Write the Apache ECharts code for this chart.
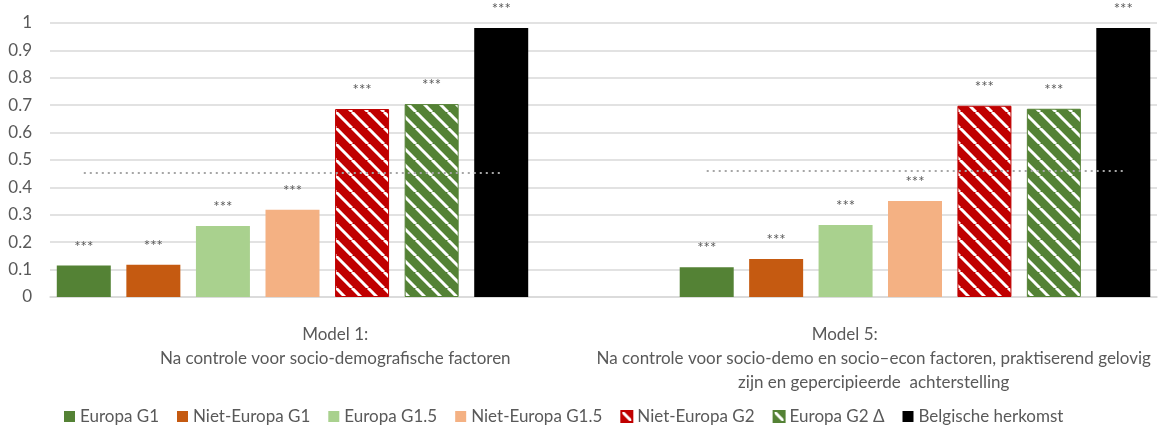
<!DOCTYPE html>
<html>
<head>
<meta charset="utf-8">
<script src="https://cdn.jsdelivr.net/npm/echarts@6/dist/echarts.min.js"></script>
<style>
  html, body { margin: 0; padding: 0; background: #ffffff; }
  #chart { width: 1170px; height: 430px; }
</style>
</head>
<body>
<div id="chart"></div>
<script>
// Model labels on the category axis
const modelLabels = [
  'Model 1:\nNa controle voor socio-demografische factoren',
  '{head|Model 5:}\nNa controle voor socio-demo en socio\u2013econ factoren, praktiserend gelovig\nzijn en gepercipieerde  achterstelling'
];

// Origin groups (one bar each per model)
const seriesNames = [
  'Europa G1',
  'Niet-Europa G1',
  'Europa G1.5',
  'Niet-Europa G1.5',
  'Niet-Europa G2',
  'Europa G2 \u0394',
  'Belgische herkomst'
];

// Values per model, in the order of seriesNames
const model1Values = [0.115, 0.118, 0.259, 0.318, 0.686, 0.704, 0.982];
const model5Values = [0.109, 0.139, 0.263, 0.350, 0.698, 0.687, 0.982];

// Significance markers above each bar
const model1Sig = ['***', '***', '***', '***', '***', '***', '***'];
const model5Sig = ['***', '***', '***', '***', '***', '***', '***'];

// Dotted reference level per model
const referenceLevels = [0.453, 0.460];

// Value axis ticks
const yMin = 0, yMax = 1, yStep = 0.1;

const FONT = 'Lato';
const TEXT = '#595959';
const GRID_LINE = '#d9d9d9';

function hatch(base) {
  const p = 16;
  const c = document.createElement('canvas');
  c.width = p; c.height = p;
  const g = c.getContext('2d');
  g.fillStyle = base;
  g.fillRect(0, 0, p, p);
  g.strokeStyle = '#ffffff';
  g.lineWidth = 3;
  for (const off of [-p, 0, p]) {
    g.beginPath();
    g.moveTo(off, 0);
    g.lineTo(off + p, p);
    g.stroke();
  }
  return c;
}

const barStyles = [
  { color: '#548235' },
  { color: '#c55a11' },
  { color: '#a9d18e' },
  { color: '#f4b183' },
  { color: { image: hatch('#c00000'), repeat: 'repeat' }, borderColor: '#c00000', borderWidth: 1 },
  { color: { image: hatch('#548235'), repeat: 'repeat' }, borderColor: '#548235', borderWidth: 1 },
  { color: '#000000' }
];

const models = [
  { values: model1Values, sig: model1Sig, ref: referenceLevels[0] },
  { values: model5Values, sig: model5Sig, ref: referenceLevels[1] }
];

// grid 0: value axis and gridlines; grids 1-2: bars of each model; grid 3: model captions
const grids = [
  { left: 50, right: 13, top: 23, bottom: 133 },
  { left: 49, width: 487, top: 23, bottom: 133 },
  { left: 672, width: 486, top: 23, bottom: 133 },
  { left: 66, right: 27, top: 23, bottom: 133 }
];

const xAxes = [
  {
    type: 'category', gridIndex: 0, data: modelLabels,
    axisLine: { lineStyle: { color: GRID_LINE, width: 1.5 } },
    axisTick: { show: false },
    axisLabel: { show: false }
  },
  { type: 'category', gridIndex: 1, data: seriesNames, show: false },
  { type: 'category', gridIndex: 2, data: seriesNames, show: false },
  {
    type: 'category', gridIndex: 3, data: modelLabels,
    axisLine: { show: false }, axisTick: { show: false },
    axisLabel: {
      interval: 0, margin: 26, color: TEXT, fontFamily: FONT, fontSize: 17,
      lineHeight: 24, align: 'center',
      rich: {
        head: { color: TEXT, fontFamily: FONT, fontSize: 17, lineHeight: 24, padding: [0, 58, 0, 0] }
      }
    }
  }
];

const yAxes = [
  {
    type: 'value', gridIndex: 0, min: yMin, max: yMax, interval: yStep,
    axisLine: { show: false }, axisTick: { show: false },
    axisLabel: { color: TEXT, fontFamily: FONT, fontSize: 17, margin: 18 },
    splitLine: { lineStyle: { color: GRID_LINE, width: 1.5 } }
  },
  { type: 'value', gridIndex: 1, min: yMin, max: yMax, show: false, splitLine: { show: false } },
  { type: 'value', gridIndex: 2, min: yMin, max: yMax, show: false, splitLine: { show: false } },
  { type: 'value', gridIndex: 3, min: yMin, max: yMax, show: false, splitLine: { show: false } }
];

const series = [];
models.forEach((m, mi) => {
  seriesNames.forEach((name, i) => {
    const s = {
      type: 'bar',
      name,
      xAxisIndex: mi + 1,
      yAxisIndex: mi + 1,
      barWidth: 54,
      barGap: '-100%',
      data: seriesNames.map((_, j) => (j === i ? m.values[i] : '-')),
      itemStyle: barStyles[i],
      label: {
        show: true, position: 'top', distance: 11,
        formatter: () => m.sig[i],
        color: TEXT, fontFamily: FONT, fontSize: 15
      },
      emphasis: { disabled: true }
    };
    if (i === 0) {
      s.markLine = {
        silent: true,
        symbol: ['none', 'none'],
        label: { show: false },
        lineStyle: { color: '#a6a6a6', type: [2, 4], width: 2 },
        data: [[
          { coord: [seriesNames[0], m.ref] },
          { coord: [seriesNames[seriesNames.length - 1], m.ref] }
        ]]
      };
    }
    series.push(s);
  });
});

const chart = echarts.init(document.getElementById('chart'), null, { renderer: 'canvas' });
chart.setOption({
  animation: false,
  backgroundColor: '#ffffff',
  grid: grids,
  xAxis: xAxes,
  yAxis: yAxes,
  legend: {
    data: seriesNames,
    left: 59, top: 403,
    icon: 'rect', itemWidth: 11, itemHeight: 11, itemGap: 18,
    textStyle: { color: TEXT, fontFamily: FONT, fontSize: 17 }
  },
  series
});
</script>
</body>
</html>
